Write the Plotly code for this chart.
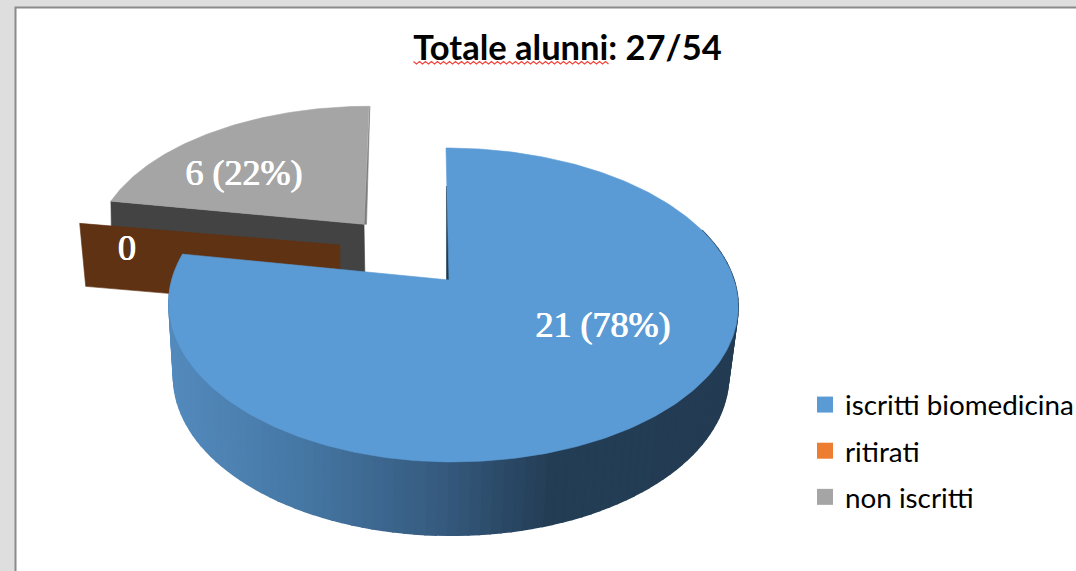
import math
import plotly.graph_objects as go

# ---- data ----
categories = ["iscritti biomedicina", "ritirati", "non iscritti"]
values = [21, 0, 6]
title_text = "Totale alunni: 27/54"
legend_colors = ["#5B9BD5", "#ED7D31", "#A5A5A5"]

# ---- style / geometry ----
W, H = 1076, 571
K = 0.159
BLUE_TOP = dict(cx=449, cy=280, ar=285, al=277, b=153, shear=-3)
BLUE_BOT = dict(cx=451, cy=351, ar=274, al=274, b=155, shear=0)
GRAY_TOP = dict(cx=364, cy=224.3, ar=265, al=265, b=136.8, shear=5)
BROWN_TOP = dict(cx=340, cy=245, ar=271.6, al=271.6, b=128, shear=0)
WALL_BROWN = (6, 63)
WALL_GRAY = (1, 60)
LABEL_XY = [(603, 328), (127, 251), (244, 176)]


def proj(theta_deg, r, p):
    t = math.radians(theta_deg)
    X, Y = r * math.sin(t), r * math.cos(t)
    s = 1 / (1 + K * Y)
    a = p["ar"] if X >= 0 else p["al"]
    return p["cx"] + a * X * s + p["shear"] * Y, p["cy"] - p["b"] * Y * s


def arc(t0, t1, p, n=120):
    pts = [proj(t0 + (t1 - t0) * i / n, 1, p) for i in range(n + 1)]
    return [q[0] for q in pts], [q[1] for q in pts]


def poly(xs, ys, color, lw=0.6):
    return go.Scatter(x=list(xs) + [xs[0]], y=list(ys) + [ys[0]], mode="lines", fill="toself",
                      fillcolor=color, line=dict(color=color, width=lw),
                      hoverinfo="skip", showlegend=False)


def lerp_side(x):
    stops = [(170, (84, 139, 190)), (300, (70, 120, 165)), (440, (54, 91, 127)), (545, (36, 62, 86)), (760, (35, 60, 83))]
    for (x0, c0), (x1, c1) in zip(stops, stops[1:]):
        if x <= x1:
            f = max(0, (x - x0) / (x1 - x0))
            return "rgb(%d,%d,%d)" % tuple(c0[i] + (c1[i] - c0[i]) * f for i in range(3))
    return "rgb(35,60,83)"


total = sum(values)
a_blue = 360 * values[0] / total
a_brown = a_blue + 360 * values[1] / total
a_end = a_brown + 360 * values[2] / total

fig = go.Figure()

# grey slice: front wall, right wall, top face
ox, oy = proj(a_brown, 1, GRAY_TOP)
ax, ay = proj(0, 0, GRAY_TOP)
fig.add_trace(poly([ox, ax, ax + WALL_GRAY[0], ox + WALL_GRAY[0]],
                   [oy, ay, ay + WALL_GRAY[1], oy + WALL_GRAY[1]], "#434343"))
ex, ey = proj(a_end, 1, GRAY_TOP)
fig.add_trace(poly([ax, ex + 0.8, ax + 2.5], [ay, ey, ay], "#7d7d7d"))
xs, ys = arc(a_brown, a_end, GRAY_TOP)
fig.add_trace(poly([ax] + xs, [ay] + ys, legend_colors[2]))

# zero slice: only its wall shows
ox, oy = proj(a_blue, 1, BROWN_TOP)
ax, ay = proj(0, 0, BROWN_TOP)
fig.add_trace(poly([ox, ax, ax, ox + WALL_BROWN[0]],
                   [oy, ay, ay + WALL_BROWN[1], oy + WALL_BROWN[1]], "#5F3213"))

# blue side strips
N = 110
for i in range(N):
    t0 = 70 + (a_blue - 70) * i / N
    t1 = 70 + (a_blue - 70) * (i + 1) / N
    p0, p1 = proj(t0, 1, BLUE_TOP), proj(t1, 1, BLUE_TOP)
    q0, q1 = proj(t0, 1, BLUE_BOT), proj(t1, 1, BLUE_BOT)
    c = lerp_side((q0[0] + q1[0]) / 2)
    fig.add_trace(poly([p0[0], p1[0], q1[0], q0[0]], [p0[1], p1[1], q1[1], q0[1]], c, lw=1.6))

# blue inner wall sliver
ax, ay = proj(0, 0, BLUE_TOP)
mx, my = proj(0, 0.68, BLUE_TOP)
fig.add_trace(poly([mx - 0.5, ax - 2.5, ax + 3], [my, ay, ay], "#1F3A52"))

# blue top face
xs, ys = arc(0, a_blue, BLUE_TOP, 300)
fig.add_trace(poly([ax] + xs, [ay] + ys, legend_colors[0]))

# data labels
labels = [f"{v} ({round(100 * v / total)}%)" if v else str(v) for v in values]
fig.add_trace(go.Scatter(x=[p[0] for p in LABEL_XY], y=[p[1] for p in LABEL_XY], text=labels,
                         mode="text", textposition="middle center",
                         textfont=dict(family="Liberation Serif", size=36, color="white", weight="normal",
                                       shadow="0.6px 0 0 white, -0.4px 0 0 white"),
                         hoverinfo="skip", showlegend=False, cliponaxis=False))

# legend entries
for name, col in zip(categories, legend_colors):
    fig.add_trace(go.Scatter(x=[None], y=[None], mode="markers", name=name, legendgroup=name,
                             marker=dict(symbol="square", size=18, color=col)))

# red spell-check squiggle under the title words
sq_x, sq_y = [], []
for i in range(0, 66):
    sq_x.append(413.5 + i * 3)
    sq_y.append(64 if i % 2 else 61.5)
fig.add_trace(go.Scatter(x=sq_x, y=sq_y, mode="lines", line=dict(color="#F0443C", width=1.2),
                         hoverinfo="skip", showlegend=False))

fig.update_layout(
    width=W, height=H, margin=dict(l=0, r=0, t=0, b=0, autoexpand=False),
    paper_bgcolor="#DEDEDE", plot_bgcolor="#DEDEDE",
    title=dict(text=f"<b>{title_text}</b>", x=567.5 / W, y=1 - 48 / H, xanchor="center", yanchor="middle",
               font=dict(family="Lato", size=34.5, color="black")),
    xaxis=dict(range=[0, W], visible=False, fixedrange=True),
    yaxis=dict(range=[H, 0], visible=False, fixedrange=True),
    legend=dict(x=805 / W, y=1 - 380 / H, xanchor="left", yanchor="top", bgcolor="rgba(0,0,0,0)",
                font=dict(family="Lato", size=27.8, color="black"), tracegroupgap=7,
                entrywidth=226, entrywidthmode="pixels"),
    shapes=[dict(type="rect", x0=15.5, y0=7.5, x1=W + 20, y1=H + 20, xref="x", yref="y", layer="below",
                 fillcolor="white", line=dict(color="#8A8A8A", width=2))],
    hovermode=False,
)
fig.write_html("out.html", config={"displayModeBar": False},
               post_script="document.body.style.margin='0';document.body.style.overflow='hidden';")
